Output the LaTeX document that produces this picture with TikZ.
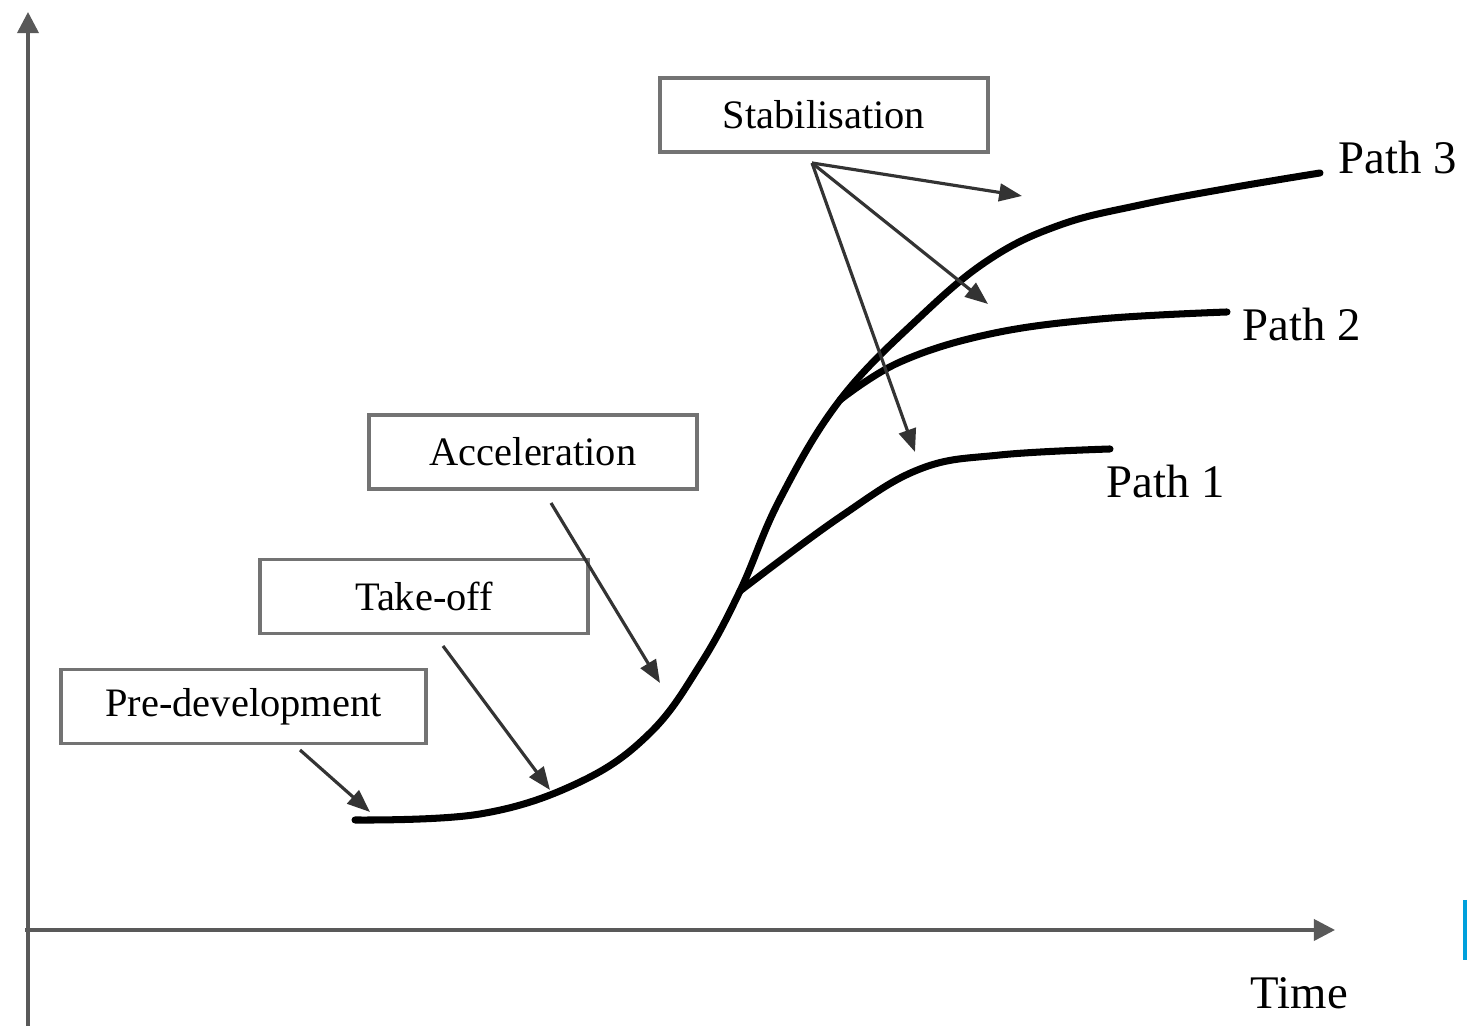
\documentclass[tikz,border=0pt]{standalone}
\usepackage{fontspec}
\setmainfont{Liberation Serif}
\usepackage{tikz}
\usetikzlibrary{arrows.meta}
\tikzset{
  phase/.style = {draw=black!55, line width=1pt, rectangle, minimum height=0.74cm, minimum width=3.28cm, align=center, font=\fontsize{11.5}{13}\selectfont},
  pathlbl/.style = {anchor=west, inner sep=0pt, font=\fontsize{13.3}{15}\selectfont},
  arrow/.style = {draw=black!80, line width=0.9pt, -{Triangle[length=6.5pt,width=5pt]}},
  axis/.style = {draw=black!65, line width=1pt, -{Triangle[length=6pt,width=6pt]}},
  curve/.style = {line width=2pt, line cap=round}
}

\begin{document}
\begin{tikzpicture}
            \useasboundingbox (0,0) rectangle (14.67,10.29);
            % axes
            \coordinate (ytop) at (0.28,10.17);
            \coordinate (ybot) at (0.28,0.03);
            \coordinate (xleft) at (0.25,0.99);
            \coordinate (xright) at (13.35,0.99);
            \draw[axis] (ybot) -- (ytop);
            \draw[axis] (xleft) -- (xright);
            \node[pathlbl] (time) at (12.50,0.36) {Time};
            % phase boxes
            \node[phase] (stab) at (8.24,9.14) {Stabilisation};
            \node[phase] (accel) at (5.33,5.77) {Acceleration};
            \node[phase] (take) at (4.24,4.325) {Take-off};
            \node[phase, minimum width=3.65cm] (pre) at (2.435,3.225) {Pre-development};
            % curves
            \draw[curve] plot[smooth, tension=0.65] coordinates {(3.55,2.09) (4.80,2.15) (5.80,2.47) (6.50,2.96) (7.00,3.64) (7.40,4.38) (7.80,5.30) (8.40,6.29) (9.20,7.12) (9.90,7.70) (10.60,8.04) (11.40,8.24) (12.30,8.41) (13.20,8.56)};
            \draw[curve] plot[smooth, tension=0.65] coordinates {(7.40,4.38) (8.40,5.12) (9.20,5.60) (10.00,5.74) (11.10,5.80)};
            \draw[curve] plot[smooth, tension=0.65] coordinates {(8.40,6.29) (9.00,6.67) (9.90,6.95) (11.00,7.10) (12.27,7.17)};
            \node[pathlbl] (p3) at (13.38,8.71) {Path 3};
            \node[pathlbl] (p2) at (12.42,7.04) {Path 2};
            \node[pathlbl] (p1) at (11.06,5.47) {Path 1};
            % arrows
            \coordinate (stabfoot) at (8.12,8.66);
            \coordinate (s3) at (10.22,8.33);
            \coordinate (s2) at (9.88,7.25);
            \coordinate (s1) at (9.15,5.77);
            \draw[arrow] (stabfoot) -- (s3);
            \draw[arrow] (stabfoot) -- (s2);
            \draw[arrow] (stabfoot) -- (s1);
            \coordinate (accelfoot) at (5.51,5.26);
            \coordinate (a1) at (6.60,3.46);
            \draw[arrow] (accelfoot) -- (a1);
            \coordinate (takefoot) at (4.43,3.83);
            \coordinate (t1) at (5.50,2.39);
            \draw[arrow] (takefoot) -- (t1);
            \coordinate (prefoot) at (3.00,2.79);
            \coordinate (pr1) at (3.70,2.17);
            \draw[arrow] (prefoot) -- (pr1);
            % edge mark
            \coordinate (mtop) at (14.65,1.29);
            \coordinate (mbot) at (14.65,0.69);
            \draw[draw={rgb,255:red,0;green,160;blue,220}, line width=1pt] (mtop) -- (mbot);
        \end{tikzpicture}
\end{document}
